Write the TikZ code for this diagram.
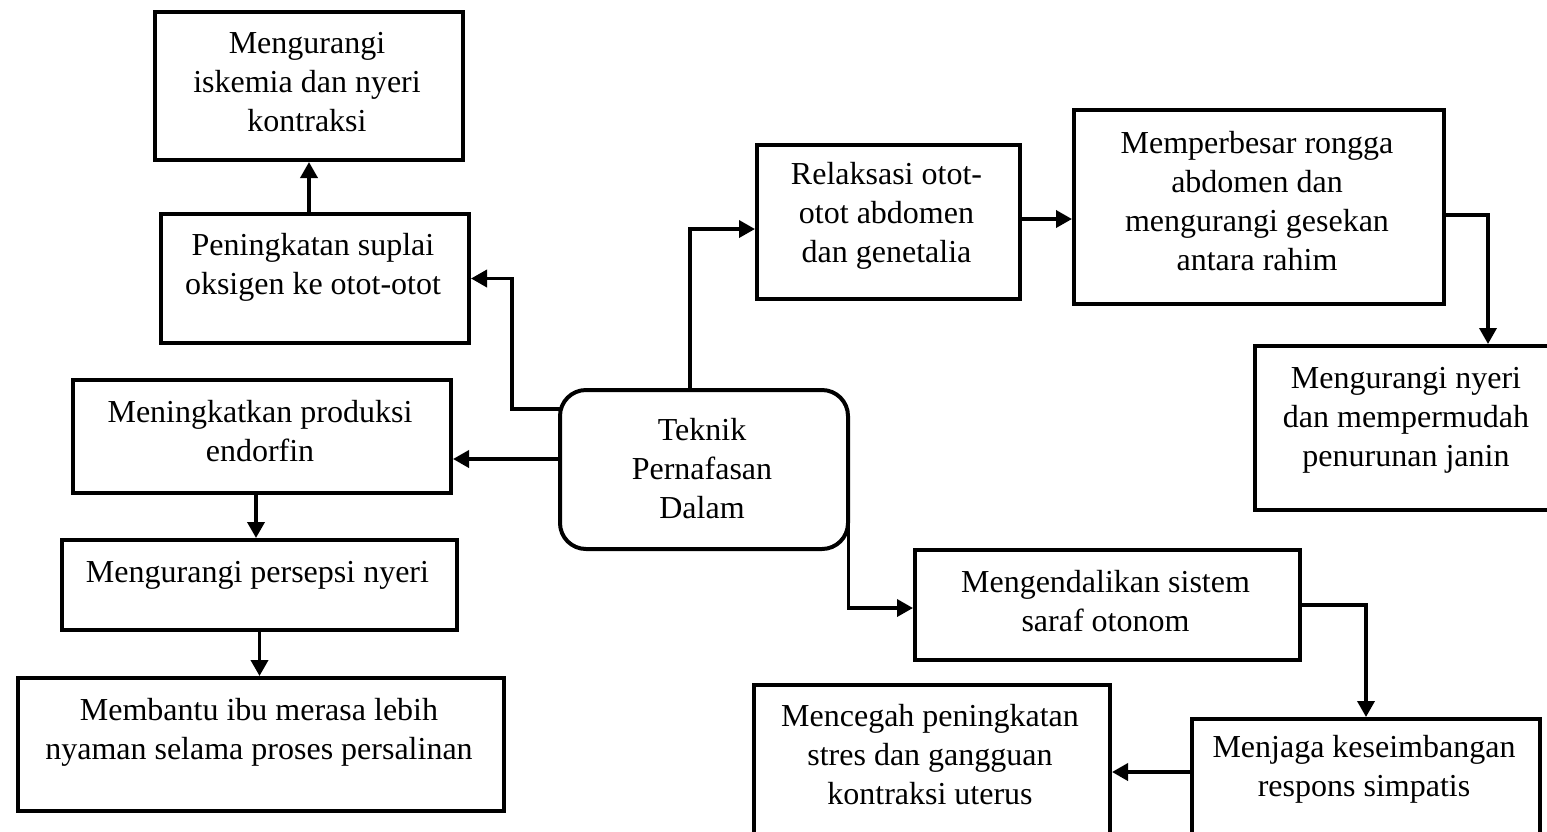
\documentclass[tikz,border=0pt]{standalone}
\usepackage{fontspec}
\setmainfont{Liberation Serif}
\usetikzlibrary{arrows.meta,calc}

\tikzset{
  box/.style={draw, line width=4pt, inner sep=0pt, anchor=north west},
  txt/.style={align=center, inner sep=0pt, font=\fontsize{32}{39}\selectfont},
  arr/.style={line width=3.6pt, -{Triangle[length=16pt,width=17pt]}},
}

\begin{document}
\begin{tikzpicture}[x=1pt, y=-1pt]
  \useasboundingbox (0,0) rectangle (1547,831);
  \fill[white] (0,0) rectangle (1547,831);
  \clip (0,0) rectangle (1547,831);

  % centre box
  \node[box, rounded corners=26pt, minimum width=288pt, minimum height=159pt] (T) at (558,388) {};
  \node[txt] (Tt) at (702,469) {Teknik\\Pernafasan\\Dalam};

  % left branch
  \node[box, minimum width=308pt, minimum height=148pt] (A) at (153,10) {};
  \node[txt] (At) at (307,82) {Mengurangi\\iskemia dan nyeri\\kontraksi};
  \node[box, minimum width=308pt, minimum height=129pt] (B) at (159,212) {};
  \node[txt] (Bt) at (313,267.5) {Peningkatan suplai\\oksigen ke otot-otot};
  \node[box, minimum width=378pt, minimum height=113pt] (C) at (71,378) {};
  \node[txt] (Ct) at (260,431) {Meningkatkan produksi\\endorfin};
  \node[box, minimum width=395pt, minimum height=90pt] (D) at (60,538) {};
  \node[txt] (Dt) at (257.5,575) {Mengurangi persepsi nyeri};
  \node[box, minimum width=486.5pt, minimum height=133pt] (E) at (15.5,676) {};
  \node[txt] (Et) at (259,732.5) {Membantu ibu merasa lebih\\nyaman selama proses persalinan};

  % upper right branch
  \node[box, minimum width=263pt, minimum height=154pt] (F) at (755,143) {};
  \node[txt] (Ft) at (886.5,216) {Relaksasi otot-\\otot abdomen\\dan genetalia};
  \node[box, minimum width=370pt, minimum height=194pt] (G) at (1072,108) {};
  \node[txt] (Gt) at (1257,201) {Memperbesar rongga\\abdomen dan\\mengurangi gesekan\\antara rahim};
  \node[box, minimum width=306pt, minimum height=164pt] (H) at (1253,344) {};
  \node[txt] (Ht) at (1406,420) {Mengurangi nyeri\\dan mempermudah\\penurunan janin};

  % lower right branch
  \node[box, minimum width=385pt, minimum height=110pt] (I) at (913,548) {};
  \node[txt] (It) at (1105.5,601) {Mengendalikan sistem\\saraf otonom};
  \node[box, minimum width=348pt, minimum height=140pt] (J) at (1190,717) {};
  \node[txt] (Jt) at (1364,769) {Menjaga keseimbangan\\respons simpatis};
  \node[box, minimum width=356pt, minimum height=170pt] (K) at (752,683) {};
  \node[txt] (Kt) at (930,755) {Mencegah peningkatan\\stres dan gangguan\\kontraksi uterus};

  % connectors
  \coordinate (tB) at ($(T.west)+(2,-60.5)$);
  \coordinate (tC) at ($(T.west)+(2,-10.5)$);
  \coordinate (tF) at ($(T.north)+(-14,2)$);
  \coordinate (tI) at ($(T.east)+(-1.5,-30.5)$);
  \coordinate (fg) at ($(F.east)+(0,-3)$);
  \coordinate (gh) at ($(G.east)+(0,8)$);
  \coordinate (hn) at ($(H.north west)+(235,0)$);
  \coordinate (jk) at ($(J.north west)+(0,55)$);
  \coordinate (cd) at ($(C.south)+(-6,0)$);

  \draw[arr] (tB) -- ++(-48,0) |- (B.east);
  \draw[arr] (A.south |- B.north) -- (A.south);
  \draw[arr] (tC) -- (tC -| C.east);
  \draw[arr] (cd) -- (cd |- D.north);
  \draw[arr] (D.south) -- (D.south |- E.north);
  \draw[arr] (tF) |- ($(F.west)+(0,7)$);
  \draw[arr] (fg) -- (fg -| G.west);
  \draw[arr] (gh) -| (hn);
  \draw[arr] (tI) |- ($(I.west)+(0,3)$);
  \draw[arr] (I.east) -| (J.north);
  \draw[arr] (jk) -- (jk -| K.east);
\end{tikzpicture}
\end{document}
